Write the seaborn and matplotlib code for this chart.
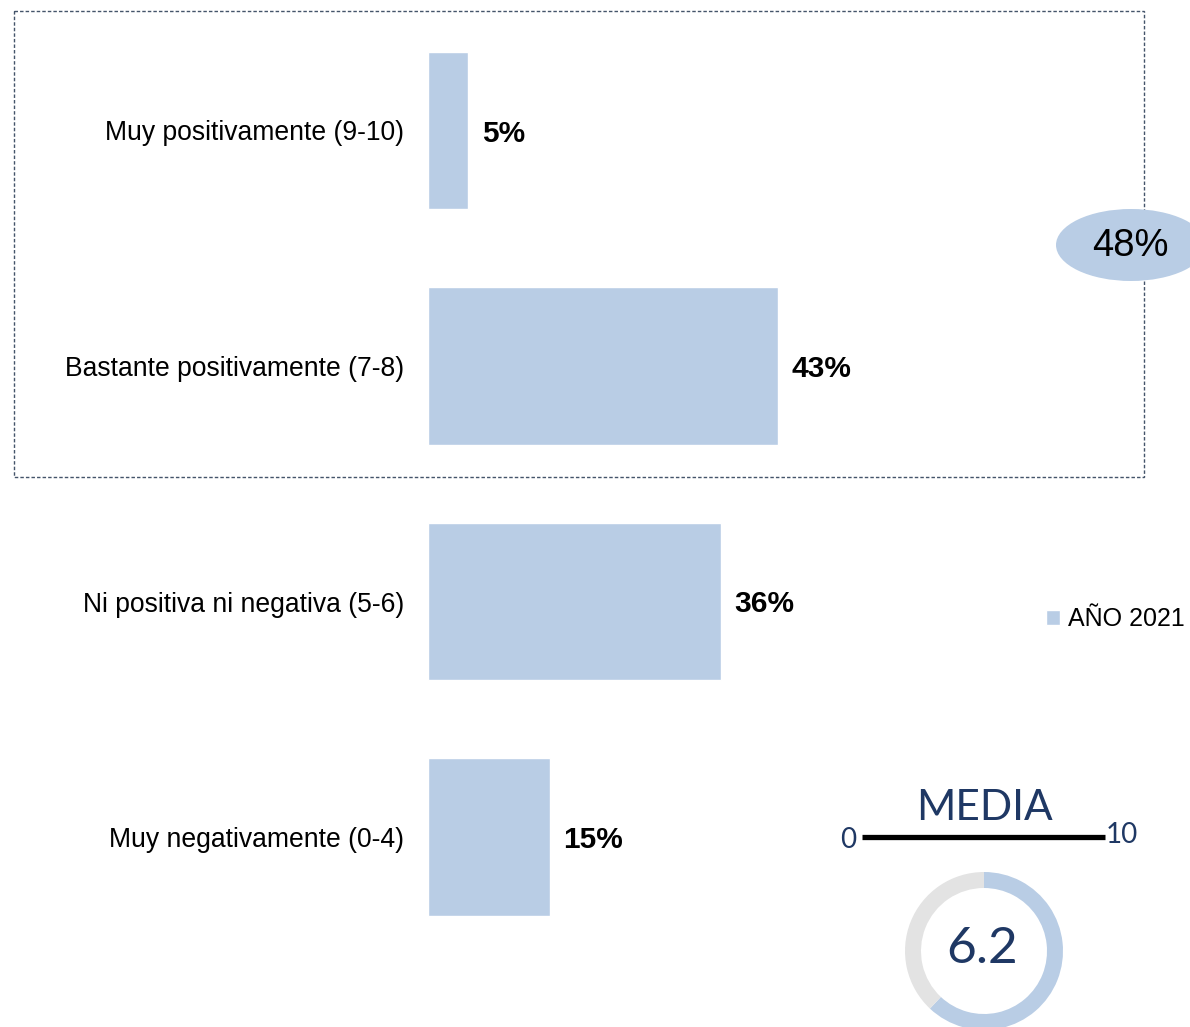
import matplotlib
matplotlib.use("Agg")
import matplotlib.pyplot as plt
from matplotlib.patches import Ellipse, Rectangle
import pandas as pd
import seaborn as sns

categories = [
    "Muy positivamente (9-10)",
    "Bastante positivamente (7-8)",
    "Ni positiva ni negativa (5-6)",
    "Muy negativamente (0-4)",
]
values = [5, 43, 36, 15]
series_name = "AÑO 2021"
mean_score = 6.2
scale_max = 10

BAR_COLOR = "#B9CDE5"
NAVY = "#1F3864"

sns.set_theme(style="white")
plt.rcParams["font.family"] = ["Liberation Sans", "DejaVu Sans"]

W, H = 1190, 1027
fig = plt.figure(figsize=(W / 100, H / 100), dpi=100)


def px_axes(x0, y0, x1, y1, **kw):
    # axes placed with pixel coords measured from the top-left corner
    return fig.add_axes([x0 / W, 1 - y1 / H, (x1 - x0) / W, (y1 - y0) / H], **kw)


# overlay for the dashed frame and the total ellipse
over = px_axes(0, 0, W, H)
over.set_xlim(0, W)
over.set_ylim(H, 0)
over.axis("off")
over.add_patch(Rectangle((14, 11), 1130, 466, fill=False, edgecolor="#44546A",
                         linewidth=1.0, linestyle=(0, (2.5, 1.5))))
over.add_patch(Ellipse((1131, 245), 150, 72, facecolor=BAR_COLOR, edgecolor="none"))
over.text(1130, 246, f"{values[0] + values[1]}%", ha="center", va="center",
          fontsize=27.5, color="black")

# bar chart
ax = px_axes(427.5, 12.75, 1040, 954.75)
df = pd.DataFrame({"cat": categories, "val": values})
sns.barplot(data=df, x="val", y="cat", orient="h", color=BAR_COLOR,
            width=0.667, saturation=1, ax=ax, label=series_name)
ax.set_xlim(0, 75.2)
ax.set_ylim(3.5, -0.5)
ax.set_xlabel("")
ax.set_ylabel("")
ax.set_xticks([])
for s in ax.spines.values():
    s.set_visible(False)
ax.tick_params(axis="y", length=0, pad=17, labelsize=19.1, labelcolor="black")
ax.patch.set_alpha(0)
for c in ax.containers:
    txts = ax.bar_label(c, labels=[f"{v}%" for v in values], padding=10,
                        fontsize=21.5, fontweight="bold", color="black")
    for t in txts:
        t.set_va("center_baseline")
ax.legend(loc="center left", frameon=False, fontsize=18, handlelength=0.55,
          handleheight=0.55, handletextpad=0.35, borderaxespad=0, borderpad=0,
          labelcolor="black")
leg = ax.get_legend()
leg.set_bbox_to_anchor((1046 / W, 1 - 619 / H), transform=fig.transFigure)

# "MEDIA" scale
lato = ["Lato", "DejaVu Sans"]
over.text(985, 808, "MEDIA", ha="center", va="center", fontsize=30.5,
          color=NAVY, family=lato)
over.plot([862, 1105], [837, 837], color="black", linewidth=3.8, solid_capstyle="butt")
over.text(848, 840, "0", ha="center", va="center", fontsize=20, color=NAVY, family=lato)
over.text(1122, 835, str(scale_max), ha="center", va="center", fontsize=20,
          color=NAVY, family=lato)

# donut with the mean
dax = px_axes(905, 872, 1063, 1030)
dax.pie([mean_score, scale_max - mean_score], colors=[BAR_COLOR, "#E3E3E3"],
        startangle=90, counterclock=False, radius=1,
        wedgeprops=dict(width=16 / 79, edgecolor="none"))
dax.set_xlim(-1, 1)
dax.set_ylim(-1, 1)
dax.text(-0.02, 0.02, f"{mean_score}", ha="center", va="center", fontsize=37,
         color=NAVY, family=lato)

fig.savefig("out.png", dpi=100)
